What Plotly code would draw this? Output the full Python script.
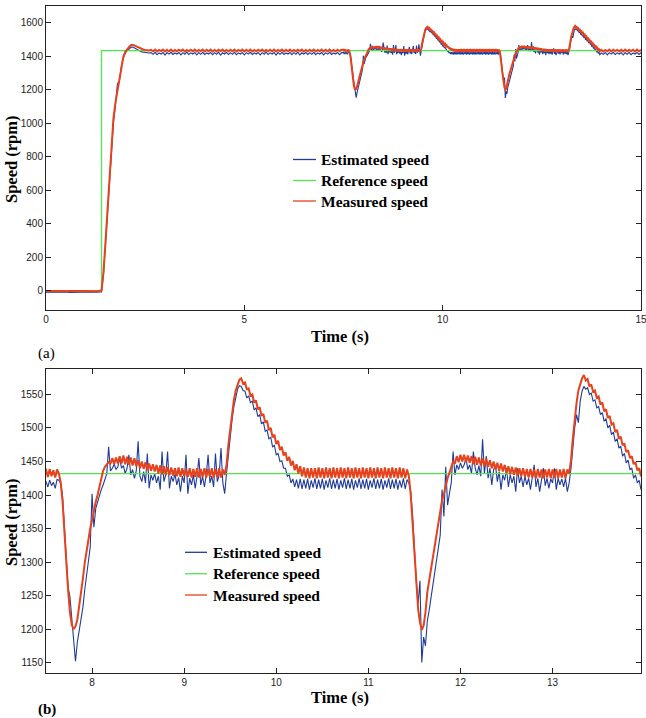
import plotly.graph_objects as go

# ---------------- data ----------------
# sampling segments: start time (s) and step (s)
SEG_START = [0.0, 1.45, 2.65, 7.50, 14.00]
SEG_STEP = [0.10, 0.05, 0.05, 0.02, 0.05]

# Measured speed (rpm)
MEAS_1 = [-2, -3, -2, -3, -2, -2, -3, -2, -3, -2, -2, -3, -2, -3, 2]
MEAS_2 = [115, 290, 475, 660, 845, 1030, 1120, 1190, 1275, 1350,
          1395, 1425, 1442, 1455, 1465, 1465, 1460, 1454, 1448, 1443,
          1439, 1436, 1434, 1433]
MEAS_3 = [1437, 1428, 1438, 1427, 1436, 1429, 1438, 1427, 1437, 1428,
          1438, 1427, 1436, 1428, 1437, 1429, 1438, 1427, 1436, 1428,
          1437, 1428, 1438, 1427, 1436, 1429, 1438, 1427, 1437, 1428,
          1438, 1427, 1436, 1428, 1437, 1429, 1438, 1427, 1436, 1428,
          1437, 1428, 1438, 1427, 1436, 1429, 1438, 1427, 1437, 1428,
          1438, 1427, 1436, 1428, 1437, 1429, 1438, 1427, 1436, 1428,
          1437, 1428, 1438, 1427, 1436, 1429, 1438, 1427, 1437, 1428,
          1438, 1427, 1436, 1428, 1437, 1429, 1438, 1427, 1436, 1428,
          1437, 1428, 1438, 1427, 1436, 1429, 1438, 1427, 1437, 1428,
          1438, 1427, 1436, 1428, 1437, 1429, 1438]
MEAS_4 = [1438, 1427, 1439, 1428, 1437, 1426, 1438, 1432, 1418, 1390,
          1345, 1298, 1258, 1225, 1206, 1200, 1204, 1214, 1232, 1255,
          1275, 1298, 1318, 1335, 1350, 1362, 1378, 1390, 1400, 1412,
          1428, 1436, 1442, 1446, 1449, 1447, 1455, 1446, 1456, 1447,
          1458, 1447, 1459, 1446, 1457, 1445, 1456, 1444, 1455, 1443,
          1452, 1440, 1450, 1439, 1449, 1437, 1447, 1436, 1446, 1435,
          1445, 1432, 1444, 1431, 1443, 1430, 1442, 1430, 1441, 1429,
          1440, 1428, 1441, 1427, 1440, 1428, 1439, 1427, 1440, 1426,
          1439, 1427, 1440, 1426, 1439, 1427, 1440, 1426, 1439, 1427,
          1440, 1426, 1439, 1427, 1440, 1426, 1438, 1430, 1445, 1475,
          1500, 1522, 1542, 1556, 1566, 1572, 1574, 1566, 1568, 1558,
          1559, 1548, 1550, 1538, 1541, 1528, 1531, 1518, 1521, 1508,
          1511, 1497, 1500, 1486, 1490, 1476, 1481, 1467, 1472, 1459,
          1464, 1451, 1457, 1444, 1451, 1437, 1446, 1432, 1443, 1428,
          1441, 1426, 1440, 1425, 1440, 1426, 1440, 1425, 1441, 1426,
          1440, 1425, 1441, 1426, 1440, 1425, 1441, 1426, 1440, 1425,
          1441, 1426, 1440, 1425, 1441, 1426, 1440, 1425, 1441, 1426,
          1440, 1425, 1441, 1426, 1440, 1425, 1441, 1426, 1440, 1425,
          1441, 1426, 1440, 1425, 1441, 1426, 1440, 1425, 1441, 1426,
          1440, 1425, 1441, 1426, 1440, 1425, 1438, 1428, 1400, 1355,
          1308, 1263, 1230, 1210, 1199, 1205, 1225, 1255, 1272, 1290,
          1308, 1325, 1342, 1360, 1375, 1392, 1402, 1415, 1425, 1433,
          1442, 1450, 1447, 1458, 1449, 1460, 1450, 1460, 1449, 1459,
          1448, 1458, 1446, 1457, 1445, 1456, 1444, 1455, 1443, 1454,
          1442, 1452, 1440, 1450, 1438, 1448, 1436, 1447, 1435, 1445,
          1433, 1443, 1431, 1442, 1430, 1441, 1429, 1440, 1428, 1440,
          1427, 1439, 1426, 1439, 1426, 1438, 1425, 1439, 1426, 1438,
          1425, 1438, 1426, 1439, 1425, 1438, 1426, 1439, 1425, 1438,
          1426, 1439, 1425, 1438, 1432, 1452, 1485, 1515, 1537, 1556,
          1565, 1574, 1579, 1571, 1573, 1562, 1565, 1554, 1556, 1545,
          1547, 1535, 1538, 1525, 1528, 1515, 1518, 1505, 1507, 1494,
          1497, 1484, 1487, 1474, 1477, 1464, 1467, 1455, 1458, 1446,
          1449, 1437, 1440, 1428]
MEAS_5 = [1437, 1427, 1436, 1428, 1438, 1427, 1437, 1429, 1436, 1428,
          1437, 1427, 1438, 1428, 1436, 1429, 1437, 1427, 1438, 1428,
          1437]

# Estimated speed (rpm)
EST_1 = [-9, -8, -10, -8, -9, -8, -10, -9, -8, -9, -10, -8, -9, -8, -8]
EST_2 = [100, 275, 465, 648, 830, 1000, 1105, 1235, 1250, 1340,
         1388, 1418, 1433, 1446, 1453, 1452, 1445, 1437, 1431, 1426,
         1423, 1421, 1419, 1418]
EST_3 = [1420, 1410, 1422, 1408, 1419, 1412, 1421, 1405, 1420, 1411,
         1422, 1409, 1418, 1412, 1421, 1407, 1420, 1411, 1423, 1409,
         1419, 1412, 1421, 1406, 1420, 1410, 1422, 1409, 1418, 1412,
         1421, 1408, 1420, 1411, 1423, 1405, 1419, 1412, 1421, 1409,
         1420, 1410, 1422, 1408, 1419, 1412, 1421, 1406, 1420, 1411,
         1422, 1409, 1418, 1412, 1421, 1407, 1420, 1411, 1423, 1409,
         1419, 1412, 1421, 1405, 1420, 1410, 1422, 1409, 1418, 1412,
         1421, 1408, 1420, 1411, 1423, 1406, 1419, 1412, 1421, 1409,
         1420, 1410, 1422, 1408, 1419, 1412, 1421, 1407, 1420, 1411,
         1422, 1409, 1418, 1412, 1421, 1408, 1420]
EST_4 = [1420, 1412, 1422, 1414, 1419, 1410, 1423, 1422, 1418, 1398,
         1352, 1302, 1262, 1248, 1215, 1190, 1152, 1180, 1198, 1212,
         1232, 1258, 1282, 1300, 1322, 1402, 1352, 1380, 1390, 1396,
         1408, 1415, 1425, 1432, 1472, 1436, 1440, 1446, 1438, 1442,
         1455, 1440, 1444, 1432, 1440, 1460, 1430, 1438, 1425, 1436,
         1480, 1428, 1420, 1435, 1418, 1462, 1410, 1430, 1422, 1432,
         1418, 1428, 1408, 1465, 1420, 1430, 1465, 1410, 1428, 1420,
         1432, 1415, 1426, 1405, 1428, 1418, 1460, 1402, 1425, 1415,
         1430, 1410, 1428, 1455, 1415, 1428, 1412, 1430, 1460, 1418,
         1428, 1412, 1462, 1420, 1430, 1470, 1418, 1402, 1432, 1462,
         1490, 1512, 1532, 1548, 1558, 1563, 1562, 1556, 1555, 1545,
         1548, 1538, 1540, 1527, 1530, 1517, 1520, 1506, 1509, 1495,
         1497, 1484, 1486, 1472, 1474, 1460, 1462, 1450, 1451, 1440,
         1440, 1428, 1430, 1418, 1424, 1412, 1423, 1410, 1424, 1409,
         1423, 1410, 1424, 1408, 1422, 1411, 1425, 1409, 1423, 1410,
         1424, 1408, 1422, 1411, 1425, 1409, 1423, 1410, 1424, 1408,
         1422, 1411, 1425, 1409, 1423, 1410, 1424, 1408, 1422, 1411,
         1425, 1409, 1423, 1410, 1424, 1408, 1422, 1411, 1425, 1409,
         1423, 1410, 1424, 1408, 1422, 1411, 1425, 1409, 1423, 1410,
         1424, 1408, 1422, 1411, 1425, 1409, 1423, 1418, 1405, 1370,
         1318, 1272, 1238, 1272, 1150, 1188, 1175, 1212, 1228, 1248,
         1262, 1280, 1300, 1322, 1340, 1408, 1368, 1442, 1385, 1402,
         1418, 1465, 1430, 1445, 1438, 1448, 1440, 1445, 1455, 1438,
         1445, 1432, 1465, 1440, 1430, 1444, 1428, 1483, 1432, 1458,
         1425, 1440, 1415, 1438, 1445, 1420, 1435, 1408, 1430, 1422,
         1440, 1412, 1430, 1418, 1428, 1405, 1440, 1418, 1428, 1412,
         1428, 1415, 1425, 1408, 1426, 1445, 1412, 1425, 1405, 1424,
         1440, 1414, 1425, 1410, 1424, 1418, 1440, 1408, 1425, 1415,
         1424, 1412, 1425, 1405, 1418, 1440, 1475, 1500, 1520, 1508,
         1540, 1555, 1562, 1558, 1560, 1550, 1552, 1540, 1542, 1530,
         1532, 1520, 1523, 1510, 1514, 1500, 1504, 1490, 1494, 1480,
         1484, 1470, 1473, 1458, 1462, 1448, 1452, 1438, 1440, 1425,
         1430, 1418, 1422, 1408]
EST_5 = [1418, 1410, 1421, 1407, 1420, 1411, 1422, 1409, 1419, 1412,
         1421, 1406, 1420, 1410, 1422, 1408, 1419, 1412, 1421, 1409,
         1420]

# Reference speed (step)
REF_T = [0.0, 1.40, 1.40, 15.0]
REF_V = [0, 0, 1432, 1432]

LEGEND_NAMES = ["Estimated speed", "Reference speed", "Measured speed"]
X1_TICKS = [0, 5, 10, 15]
Y1_TICKS = [0, 200, 400, 600, 800, 1000, 1200, 1400, 1600]
X2_TICKS = [8, 9, 10, 11, 12, 13]
Y2_TICKS = [1150, 1200, 1250, 1300, 1350, 1400, 1450, 1500, 1550]


def build(segments):
    t, v = [], []
    for t0, dt, vals in segments:
        for i, val in enumerate(vals):
            t.append(round(t0 + i * dt, 4))
            v.append(val)
    return t, v


t_meas, v_meas = build(zip(SEG_START, SEG_STEP, [MEAS_1, MEAS_2, MEAS_3, MEAS_4, MEAS_5]))
t_est, v_est = build(zip(SEG_START, SEG_STEP, [EST_1, EST_2, EST_3, EST_4, EST_5]))

# ---------------- styling ----------------
W, H = 646, 718
C_EST = "#1f3b98"
C_REF = "#4fe64f"
C_MEAS = "#e5421d"
SERIF = "Liberation Serif, Times New Roman, serif"
SANS = "Liberation Sans, Arial, sans-serif"


def px(x):
    return x / W


def py(y):
    return 1 - y / H


fig = go.Figure()
for xa, ya in [("x", "y"), ("x2", "y2")]:
    fig.add_trace(go.Scatter(x=t_est, y=v_est, mode="lines", name=LEGEND_NAMES[0],
                             line=dict(color=C_EST, width=1.1), xaxis=xa, yaxis=ya,
                             showlegend=False))
    fig.add_trace(go.Scatter(x=REF_T, y=REF_V, mode="lines", name=LEGEND_NAMES[1],
                             line=dict(color=C_REF, width=1.3), xaxis=xa, yaxis=ya,
                             showlegend=False))
    fig.add_trace(go.Scatter(x=t_meas, y=v_meas, mode="lines", name=LEGEND_NAMES[2],
                             line=dict(color=C_MEAS, width=2.0), xaxis=xa, yaxis=ya,
                             showlegend=False))

axis_common = dict(showline=True, linecolor="#222", linewidth=1, mirror="ticks",
                   ticks="inside", ticklen=5, tickcolor="#222", showgrid=False,
                   zeroline=False, tickfont=dict(family=SANS, size=10, color="#222"),
                   automargin=False, ticklabeloverflow="allow")

xdom = [px(46), px(641)]
fig.update_layout(
    width=W, height=H,
    margin=dict(l=0, r=0, t=0, b=0),
    paper_bgcolor="white", plot_bgcolor="white",
    xaxis=dict(domain=xdom, range=[0, 15], tickvals=X1_TICKS, anchor="y", **axis_common),
    yaxis=dict(domain=[py(310), py(5.7)], range=[-115, 1700], tickvals=Y1_TICKS,
               anchor="x", **axis_common),
    xaxis2=dict(domain=xdom, range=[7.5, 13.96], tickvals=X2_TICKS, anchor="y2", **axis_common),
    yaxis2=dict(domain=[py(673.3), py(369)], range=[1134, 1588], tickvals=Y2_TICKS,
                anchor="x2", **axis_common),
)

annotations = []
shapes = []


def text(x, y, s, size, bold=True, xanchor="center", angle=0):
    annotations.append(dict(x=px(x), y=py(y), xref="paper", yref="paper", text=s,
                            showarrow=False, xanchor=xanchor, yanchor="middle",
                            textangle=angle,
                            font=dict(family=SERIF, size=size, color="black",
                                      weight="bold" if bold else "normal")))


# axis titles and panel labels
text(340, 336, "Time (s)", 16.5)
text(340, 697, "Time (s)", 16.5)
text(11, 159, "Speed (rpm)", 16.5, angle=-90)
text(11, 522, "Speed (rpm)", 16.5, angle=-90)
text(36, 353, "(a)", 15, bold=False, xanchor="left")
text(36, 709, "(b)", 15, bold=True, xanchor="left")

# legends
colors = [C_EST, C_REF, C_MEAS]
for (x0, x1, xt, ys) in [(293, 316, 319, [159.5, 180.5, 201]),
                         (185, 207, 211, [552.3, 573.7, 595])]:
    for name, c, yy in zip(LEGEND_NAMES, colors, ys):
        shapes.append(dict(type="line", xref="paper", yref="paper",
                           x0=px(x0), x1=px(x1), y0=py(yy), y1=py(yy),
                           line=dict(color=c, width=1.3)))
        text(xt, yy, name, 15.5, xanchor="left")

fig.update_layout(annotations=annotations, shapes=shapes)
fig.write_html("out.html")
